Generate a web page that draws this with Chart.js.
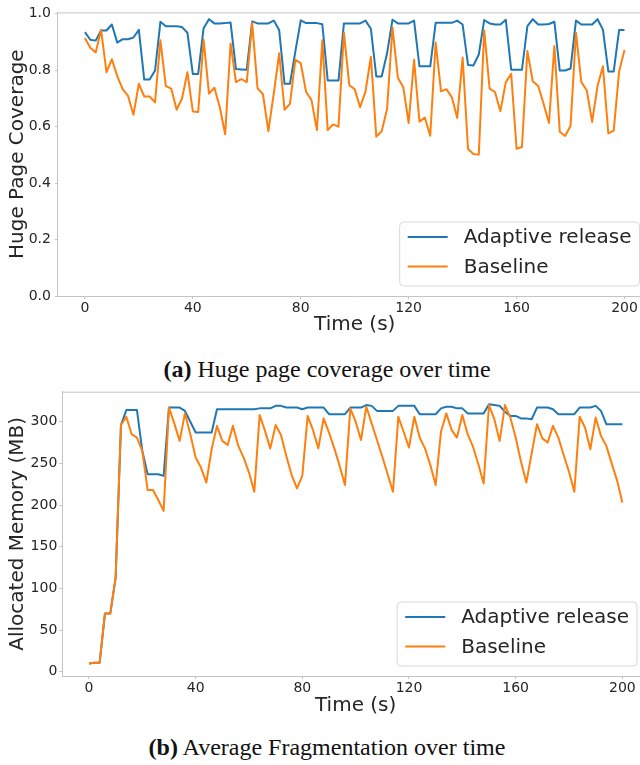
<!DOCTYPE html>
<html>
<head>
<meta charset="utf-8">
<script src="https://cdn.jsdelivr.net/npm/chart.js@4.4.0/dist/chart.umd.min.js"></script>
<style>
html, body { margin: 0; padding: 0; background: #fff; overflow: hidden; }
#page { position: relative; width: 640px; height: 765px; overflow: hidden; }
canvas { position: absolute; left: 0; }
.cap { position: absolute; left: 0; width: 654px; text-align: center; font-family: "Liberation Serif", serif; font-size: 24px; line-height: 24px; color: #111; }
</style>
</head>
<body>
<div id="page">
  <canvas id="chartA" width="700" height="345" style="top:0px"></canvas>
  <div class="cap" style="top:357px"><b>(a)</b> Huge page coverage over time</div>
  <canvas id="chartB" width="700" height="345" style="top:380px"></canvas>
  <div class="cap" style="top:735px"><b>(b)</b> Average Fragmentation over time</div>
</div>
<script>
// sample times (s)
var times = [0,2,4,6,8,10,12,14,16,18,20,22,24,26,28,30,32,34,36,38,40,42,44,46,48,50,52,54,56,58,60,
  62,64,66,68,70,72,74,76,78,80,82,84,86,88,90,92,94,96,98,100,102,104,106,108,110,112,114,116,118,120,
  122,124,126,128,130,132,134,136,138,140,142,144,146,148,150,152,154,156,158,160,162,164,166,168,170,
  172,174,176,178,180,182,184,186,188,190,192,194,196,198,200];

var xTicks = [0, 40, 80, 120, 160, 200];
var coverageTicks = [0, 0.2, 0.4, 0.6, 0.8, 1.0];
var memoryTicks = [0, 50, 100, 150, 200, 250, 300];

// (a) huge page coverage
var coverageAdaptive = [0.935,0.908,0.905,0.941,0.941,0.962,0.898,0.91,0.91,0.916,0.943,0.767,0.767,0.799,0.972,
  0.956,0.956,0.956,0.953,0.933,0.787,0.787,0.949,0.981,0.966,0.966,0.967,0.969,0.804,0.803,0.802,0.973,0.966,
  0.966,0.966,0.976,0.943,0.752,0.752,0.866,0.977,0.967,0.967,0.967,0.963,0.764,0.764,0.764,0.966,0.966,0.966,
  0.966,0.976,0.947,0.778,0.778,0.86,0.979,0.966,0.966,0.966,0.976,0.814,0.814,0.814,0.968,0.968,0.968,0.968,
  0.976,0.962,0.819,0.817,0.856,0.978,0.966,0.962,0.962,0.979,0.802,0.802,0.802,0.956,0.981,0.962,0.962,0.964,
  0.972,0.799,0.799,0.806,0.976,0.962,0.962,0.962,0.981,0.944,0.796,0.796,0.943,0.943];
var coverageBaseline = [0.914,0.88,0.863,0.943,0.793,0.839,0.779,0.733,0.709,0.642,0.752,0.707,0.707,0.686,0.906,
  0.744,0.735,0.66,0.70,0.793,0.654,0.652,0.908,0.717,0.738,0.669,0.573,0.895,0.758,0.769,0.758,0.968,0.736,
  0.715,0.584,0.717,0.86,0.66,0.681,0.837,0.825,0.723,0.694,0.588,0.906,0.588,0.608,0.60,0.933,0.747,0.733,
  0.669,0.724,0.848,0.565,0.584,0.663,0.952,0.773,0.74,0.613,0.837,0.618,0.632,0.568,0.898,0.725,0.733,0.704,
  0.631,0.845,0.521,0.503,0.501,0.941,0.735,0.723,0.655,0.758,0.787,0.522,0.528,0.868,0.761,0.744,0.681,0.613,
  0.886,0.582,0.567,0.603,0.933,0.758,0.729,0.617,0.744,0.814,0.576,0.586,0.796,0.872];

// (b) allocated memory (MB)
var memoryAdaptive = [10,11,11,70,70,113,296,314,314,314,265,237,237,237,235,317,317,317,313,300,287,287,287,287,
  315,315,315,315,315,315,315,315,316,316,316,319,319,317,317,317,315,317,317,317,317,309,309,309,309,317,317,
  317,320,319,313,313,313,313,319,319,319,319,309,309,309,309,316,318,318,316,316,310,310,310,310,321,320,319,
  312,307,307,304,304,303,317,317,317,315,309,309,309,309,317,317,317,319,313,297,297,297,297];
var memoryBaseline = [10,11,11,70,70,113,296,306,285,281,265,218,218,206,193,317,298,277,310,285,257,245,227,267,
  295,277,272,295,271,257,239,216,308,289,268,296,284,259,236,220,235,307,290,268,304,287,268,247,224,316,300,
  278,318,298,278,258,237,216,306,288,269,306,281,268,248,224,288,310,290,281,308,285,270,249,226,320,303,277,
  320,305,281,252,227,262,297,280,275,295,281,260,240,216,306,293,267,305,283,271,250,230,203];

var blue = '#1f77b4';
var orange = '#ff7f0e';
var spine = '#c4c4c4';
var textColor = '#262626';

function pts(vals) {
  return times.map(function (t, i) { return {x: t, y: vals[i]}; });
}

// legend box in the lower right corner + top spine
var cornerLegend = {
  id: 'cornerLegend',
  afterDatasetsDraw(chart) {
    var ctx = chart.ctx, a = chart.chartArea;
    ctx.save();
    ctx.strokeStyle = spine;
    ctx.lineWidth = 1;
    ctx.beginPath();
    ctx.moveTo(a.left, a.top + 0.5);
    ctx.lineTo(a.right, a.top + 0.5);
    ctx.stroke();

    ctx.font = '20px "DejaVu Sans"';
    var labels = chart.data.datasets.map(function (d) { return d.label; });
    var tw = Math.max.apply(null, labels.map(function (l) { return ctx.measureText(l).width; }));
    var w = 8 + 40 + 16 + tw + 8, h = 64;
    var x = a.right - 12 - w, y = a.bottom - 10 - h;
    ctx.beginPath();
    ctx.roundRect(x, y, w, h, 4);
    ctx.fillStyle = 'rgba(255,255,255,0.85)';
    ctx.fill();
    ctx.strokeStyle = '#d8d8d8';
    ctx.stroke();
    chart.data.datasets.forEach(function (d, i) {
      var cy = y + 15 + i * 29.4;
      ctx.strokeStyle = d.borderColor;
      ctx.lineWidth = 2;
      ctx.beginPath();
      ctx.moveTo(x + 8, cy);
      ctx.lineTo(x + 48, cy);
      ctx.stroke();
      ctx.fillStyle = textColor;
      ctx.textBaseline = 'middle';
      ctx.fillText(d.label, x + 64, cy + 1);
    });
    ctx.restore();
  }
};

function makeChart(id, cfg) {
  return new Chart(document.getElementById(id), {
    type: 'line',
    data: {
      datasets: [
        { label: 'Adaptive release', data: pts(cfg.a), borderColor: blue, order: 1 },
        { label: 'Baseline', data: pts(cfg.b), borderColor: orange, order: 0 }
      ]
    },
    options: {
      responsive: false,
      animation: false,
      devicePixelRatio: 1,
      elements: {
        line: { borderWidth: 2, tension: 0, borderJoinStyle: 'round', fill: false },
        point: { radius: 0 }
      },
      layout: { padding: { top: cfg.padTop, right: cfg.padRight, left: 0, bottom: 0 } },
      plugins: { legend: { display: false }, tooltip: { enabled: false } },
      scales: {
        x: {
          type: 'linear',
          min: -10,
          max: 210,
          afterFit: function (s) { s.height = 49; },
          afterBuildTicks: function (s) { s.ticks = xTicks.map(function (v) { return {value: v}; }); },
          grid: { drawOnChartArea: false, drawTicks: true, tickLength: 3, color: spine },
          border: { color: spine },
          ticks: { color: textColor, font: { family: 'DejaVu Sans', size: 14 }, padding: 1, maxRotation: 0 },
          title: { display: true, text: 'Time (s)', color: textColor,
                   font: { family: 'DejaVu Sans', size: 20 }, padding: { top: 0, bottom: cfg.xTitlePad } }
        },
        y: {
          min: cfg.yMin,
          max: cfg.yMax,
          afterFit: function (s) { s.width = cfg.yWidth; },
          afterBuildTicks: function (s) { s.ticks = cfg.yTicks.map(function (v) { return {value: v}; }); },
          grid: { drawOnChartArea: false, drawTicks: true, tickLength: 3, color: spine },
          border: { color: spine },
          ticks: { color: textColor, font: { family: 'DejaVu Sans', size: 14 }, padding: cfg.yTickPad,
                   callback: cfg.fmt },
          title: { display: true, text: cfg.yTitle, color: textColor,
                   font: { family: 'DejaVu Sans', size: 20 }, padding: { top: 6, bottom: 0 } }
        }
      }
    },
    plugins: [cornerLegend]
  });
}

makeChart('chartA', {
  a: coverageAdaptive, b: coverageBaseline,
  yMin: 0, yMax: 1.005, yTicks: coverageTicks, yTitle: 'Huge Page Coverage',
  fmt: function (v) { return v.toFixed(1); },
  padTop: 8.6, padRight: 48.5, yWidth: 57.9, yTickPad: 4, xTitlePad: 8
});

makeChart('chartB', {
  a: memoryAdaptive, b: memoryBaseline,
  yMin: -5, yMax: 336, yTicks: memoryTicks, yTitle: 'Allocated Memory (MB)',
  fmt: function (v) { return String(v); },
  padTop: 11.7, padRight: 51, yWidth: 62.3, yTickPad: 2, xTitlePad: 7
});
</script>
</body>
</html>
